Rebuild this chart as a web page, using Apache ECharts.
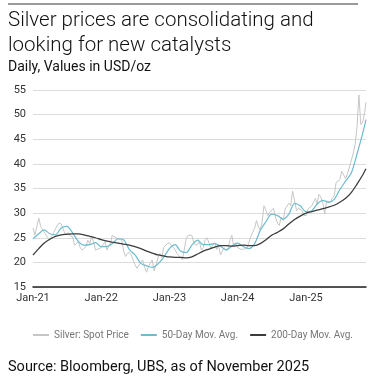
<!DOCTYPE html>
<html><head><meta charset="utf-8">
<script src="https://cdn.jsdelivr.net/npm/echarts@6/dist/echarts.min.js"></script>
<style>html,body{margin:0;padding:0;background:#fff}#c{width:386px;height:384px}</style>
</head><body><div id="c"></div>
<script>
// Spot price: three readings per month (1st, 11th, 21st), Jan 2021 – Nov 2025
const spotValues = [
  27.0,25.5,25.5, 29.0,27.3,27.5, 26.2,26.0,25.0, 24.5,25.3,26.0, 26.8,27.5,28.0, 27.8,28.0,25.8,
  26.2,26.0,25.3, 25.2,23.5,23.5, 24.2,23.0,22.5, 22.5,23.2,24.5, 23.8,25.3,24.2, 22.5,22.2,22.8,
  23.0,22.6,24.2, 22.5,23.3,24.0, 25.5,25.8,25.0, 24.8,25.2,24.5, 22.3,21.2,21.8, 22.0,21.5,21.3,
  19.5,18.8,18.8, 20.0,20.5,19.0, 18.0,19.2,19.5, 20.5,18.3,19.4, 21.0,21.8,21.0, 23.0,23.4,23.8,
  24.0,23.5,23.8, 22.5,21.8,21.8, 21.0,20.5,22.5, 24.8,25.5,25.2, 25.5,24.0,23.5, 23.6,24.2,22.5,
  23.0,24.5,25.0, 24.0,22.8,23.5, 24.0,22.6,23.5, 21.5,21.8,23.0, 22.5,23.0,24.5, 25.5,23.2,24.0,
  23.0,22.8,22.6, 22.7,22.6,22.8, 24.0,25.2,24.8, 27.0,28.5,27.2, 26.6,28.2,31.5, 30.5,29.5,30.2,
  30.2,31.0,29.2, 28.0,27.5,29.2, 28.5,30.8,31.0, 32.0,31.5,34.5, 32.5,30.5,31.0, 31.2,30.5,29.5,
  29.5,30.8,30.5, 31.5,32.3,33.0, 31.8,33.8,33.3, 32.0,29.8,32.5, 32.5,32.2,33.0, 33.5,36.2,36.0,
  36.8,38.5,38.2, 37.0,38.0,38.0, 40.8,42.2,44.0, 47.5,54.0,48.0, 48.5,50.5
];
const spotEnd = 52.5;
// 50-day moving average, first of each month
const ma50Values = [
  24.8,25.8,26.6,25.8,25.6,27.0,27.3,26.0,24.2,23.5,23.6,24.0,
  23.2,23.2,23.8,24.8,24.6,22.6,21.5,19.8,19.3,19.0,19.7,21.0,
  22.8,23.6,22.3,22.0,23.5,24.5,23.6,23.6,23.8,23.3,22.5,23.3,
  23.9,23.2,22.8,23.8,26.5,28.3,29.8,29.5,28.8,29.8,32.0,31.5,
  30.3,30.5,31.8,32.6,32.2,32.8,34.8,36.5,38.2,42.0,46.3
];
const ma50End = 49.0;
// 200-day moving average, first of each month
const ma200Values = [
  21.5,22.8,23.9,24.7,25.3,25.6,25.7,25.8,25.8,25.6,25.3,25.0,
  24.6,24.3,24.1,23.9,23.7,23.5,23.2,22.8,22.3,21.9,21.5,21.3,
  21.1,21.0,21.0,20.9,21.1,21.7,22.3,22.7,23.1,23.4,23.4,23.3,
  23.4,23.5,23.4,23.4,23.8,24.6,25.5,26.1,26.8,27.8,28.7,29.4,
  30.0,30.3,30.6,30.9,31.2,31.6,32.2,33.0,34.2,35.9,37.8
];
const ma200End = 39.0;
const endDate = '2025-11-18';
const yTicks = [15,20,25,30,35,40,45,50,55];
const seriesNames = ['Silver: Spot Price','50-Day Mov. Avg.','200-Day Mov. Avg.'];

function pad(n){return (n<10?'0':'')+n;}
const spotData = spotValues.map((v,i)=>{
  const m = Math.floor(i/3), d=[1,11,21][i%3];
  const y = 2021+Math.floor(m/12), mo = m%12+1;
  return [y+'-'+pad(mo)+'-'+pad(d), v];
});
spotData.push([endDate, spotEnd]);
const monthDate = i => (2021+Math.floor(i/12))+'-'+pad(i%12+1)+'-01';
const ma50Data = ma50Values.map((v,i)=>[monthDate(i),v]); ma50Data.push([endDate, ma50End]);
const ma200Data = ma200Values.map((v,i)=>[monthDate(i),v]); ma200Data.push([endDate, ma200End]);

const font = 'Roboto, "Noto Sans", sans-serif';
const chart = echarts.init(document.getElementById('c'), null, {renderer:'canvas'});
chart.setOption({
  animation:false,
  textStyle:{fontFamily:font},
  graphic:[
    {type:'line', shape:{x1:8,y1:4,x2:358,y2:4}, style:{stroke:'#9a9a9a', lineWidth:2}},
    {type:'text', left:8, top:8, style:{text:'Silver prices are consolidating and\nlooking for new catalysts', font:'300 20.5px '+font, fill:'#111', lineHeight:25}},
    {type:'text', left:8, top:60, style:{text:'Daily, Values in USD/oz', font:'14px '+font, fill:'#111'}},
    {type:'text', left:8, top:360, style:{text:'Source: Bloomberg, UBS, as of November 2025', font:'14.5px '+font, fill:'#111'}}
  ],
  legend:{
    top:325, left:'center', itemWidth:16, itemHeight:2, itemGap:12,
    textStyle:{fontSize:10, color:'#777', fontFamily:font},
    data:seriesNames.map(n=>({name:n, icon:'rect'}))
  },
  grid:{left:33, right:20, top:90, bottom:97},
  xAxis:{
    type:'time', min:'2021-01-01', max:endDate,
    minInterval:365*86400000, maxInterval:366*86400000,
    axisLine:{lineStyle:{color:'#222', width:1.5}},
    axisTick:{show:false},
    splitLine:{show:false},
    axisLabel:{color:'#333', fontSize:11, margin:6, showMinLabel:true,
      formatter:v=>{const d=new Date(v);return 'Jan-'+String(d.getFullYear()).slice(2);}}
  },
  yAxis:{
    type:'value', min:yTicks[0], max:yTicks[yTicks.length-1], interval:5,
    axisLine:{show:false}, axisTick:{show:false},
    axisLabel:{color:'#333', fontSize:11, margin:7},
    splitLine:{lineStyle:{color:'#dcdcdc', width:1}}
  },
  series:[
    {name:seriesNames[0], type:'line', data:spotData, showSymbol:false,
      lineStyle:{color:'#c6c6c6', width:1}, itemStyle:{color:'#c6c6c6'}, z:1},
    {name:seriesNames[1], type:'line', data:ma50Data, showSymbol:false, smooth:0.3,
      lineStyle:{color:'#6cbccf', width:1.2}, itemStyle:{color:'#6cbccf'}, z:2},
    {name:seriesNames[2], type:'line', data:ma200Data, showSymbol:false, smooth:0.3,
      lineStyle:{color:'#3c3c3c', width:1.3}, itemStyle:{color:'#3c3c3c'}, z:3}
  ]
});
</script></body></html>
